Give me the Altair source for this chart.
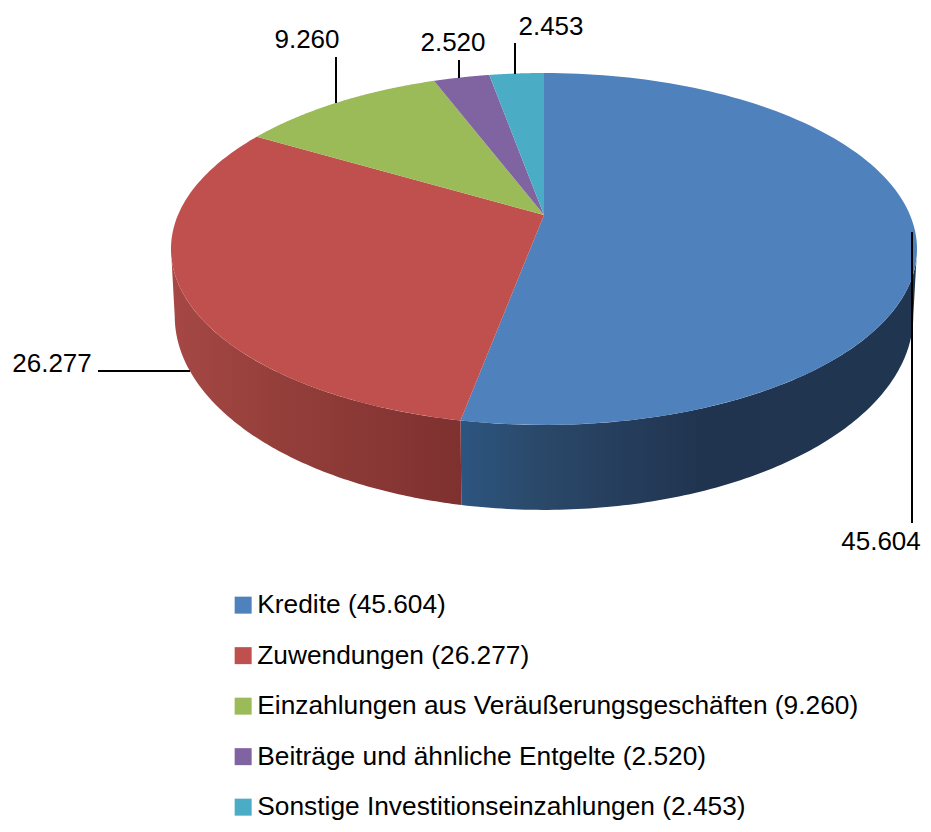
import math
import altair as alt

# --- values ---
labels = ["Kredite", "Zuwendungen", "Einzahlungen aus Veräußerungsgeschäften",
          "Beiträge und ähnliche Entgelte", "Sonstige Investitionseinzahlungen"]
values = [45.604, 26.277, 9.260, 2.520, 2.453]
value_text = ["45.604", "26.277", "9.260", "2.520", "2.453"]
colors = ["#4f81bd", "#c0504d", "#9bbb59", "#8064a2", "#4bacc6"]

# --- layout: perspective of the disc, in page pixels ---
CX, APEX_Y, DX, DY, PERSP = 544.0, 215.0, 366.0, 127.9, -0.193
TOP_CY, TOP_RY = 249.0, 176.0
BOT_K, BOT_CY, BOT_RY = 0.99, 316.0, 194.0
FONT = "Liberation Sans"
FS = 26


def top(theta):
    u, v = math.sin(theta), -math.cos(theta)
    d = 1 + PERSP * v
    return (CX + DX * u / d, (DY * v + APEX_Y) / d)


def bottom(theta):
    x, y = top(theta)
    return (CX + BOT_K * (x - CX), BOT_CY + BOT_RY * (y - TOP_CY) / TOP_RY)


def feat(kind, coords, **props):
    return {"type": "Feature", "properties": props,
            "geometry": {"type": kind, "coordinates": coords}}


def collection(features):
    return alt.InlineData(values={"type": "FeatureCollection", "features": features},
                          format=alt.DataFormat(property="features", type="json"))


total = sum(values)
edges = [0.0]
for val in values:
    edges.append(edges[-1] + val / total * 2 * math.pi)


def samples(a, b, n=120):
    return [a + (b - a) * i / n for i in range(n + 1)]


legend_names = [f"{l} ({t})" for l, t in zip(labels, value_text)]

slices = []
for name, a, b in zip(legend_names, edges[:-1], edges[1:]):
    ring = [[CX, APEX_Y]] + [list(top(t)) for t in samples(a, b)] + [[CX, APEX_Y]]
    slices.append(feat("Polygon", [ring], name=name))

# front wall: only the part of each slice below the widest line of the disc
front_a = math.acos(PERSP)
front_b = 2 * math.pi - front_a


def wall(a, b):
    a, b = max(a, front_a), min(b, front_b)
    ts = samples(a, b)
    ring = [list(top(t)) for t in ts] + [list(bottom(t)) for t in reversed(ts)]
    ring.append(ring[0])
    return feat("Polygon", [ring])


proj = dict(type="identity", scale=1, translate=[-8, -8])


def wall_layer(a, b, stops):
    return alt.Chart(collection([wall(a, b)])).mark_geoshape(
        strokeWidth=0,
        fill=alt.Gradient(gradient="linear", x1=0, x2=1, y1=0, y2=0,
                          stops=[alt.GradientStop(offset=o, color=c) for o, c in stops]),
    ).project(**proj)


blue_wall = wall_layer(edges[0], edges[1],
                       [(0, "#2d5580"), (0.18, "#2a4868"), (0.31, "#274060"),
                        (0.53, "#20344f"), (1, "#203650")])
red_wall = wall_layer(edges[1], edges[2],
                      [(0, "#a64845"), (0.35, "#953f3b"), (1, "#7e312f")])

tops = alt.Chart(collection(slices)).mark_geoshape(strokeWidth=0).encode(
    color=alt.Color(
        "properties.name:N",
        scale=alt.Scale(domain=legend_names, range=colors),
        sort=legend_names,
        legend=alt.Legend(
            title=None, orient="none", legendX=222, legendY=584,
            symbolType="square", symbolSize=289, symbolStrokeWidth=0,
            labelFont=FONT, labelFontSize=26.3, labelColor="#000000",
            labelOffset=1, rowPadding=23.5, labelLimit=800, columns=1,
        ),
    )
).project(**proj)

# leader lines: (anchor on the slice) to (label end)
leader_ends = [
    [(912, 232), (912, 523)],
    [(190, 371), (98, 371)],
    [(336, 103), (336, 57)],
    [(459, 78), (459, 60)],
    [(515, 74), (515, 43)],
]
lines = alt.Chart(collection([feat("LineString", [list(p) for p in l]) for l in leader_ends])).mark_geoshape(
    filled=False, stroke="#000000", strokeWidth=2).project(**proj)

label_x = [881, 52, 307, 453, 551]
label_y = [550, 372, 48, 51, 35]
text_rows = [{"t": t, "px": x - 8, "py": y - 8} for t, x, y in zip(value_text, label_x, label_y)]
texts = alt.Chart(alt.Data(values=text_rows)).mark_text(
    font=FONT, fontSize=FS, color="#000000", align="center", baseline="alphabetic"
).encode(
    x=alt.X("px:Q", scale=None, axis=None),
    y=alt.Y("py:Q", scale=None, axis=None),
    text="t:N",
)

chart = alt.layer(blue_wall, red_wall, tops, lines, texts).properties(
    width=915, height=816, padding=0, autosize=alt.AutoSizeParams(type="none"),
    background="#ffffff",
).configure_view(stroke=None)

chart.save("out.html", embed_options={"renderer": "svg", "actions": False})
